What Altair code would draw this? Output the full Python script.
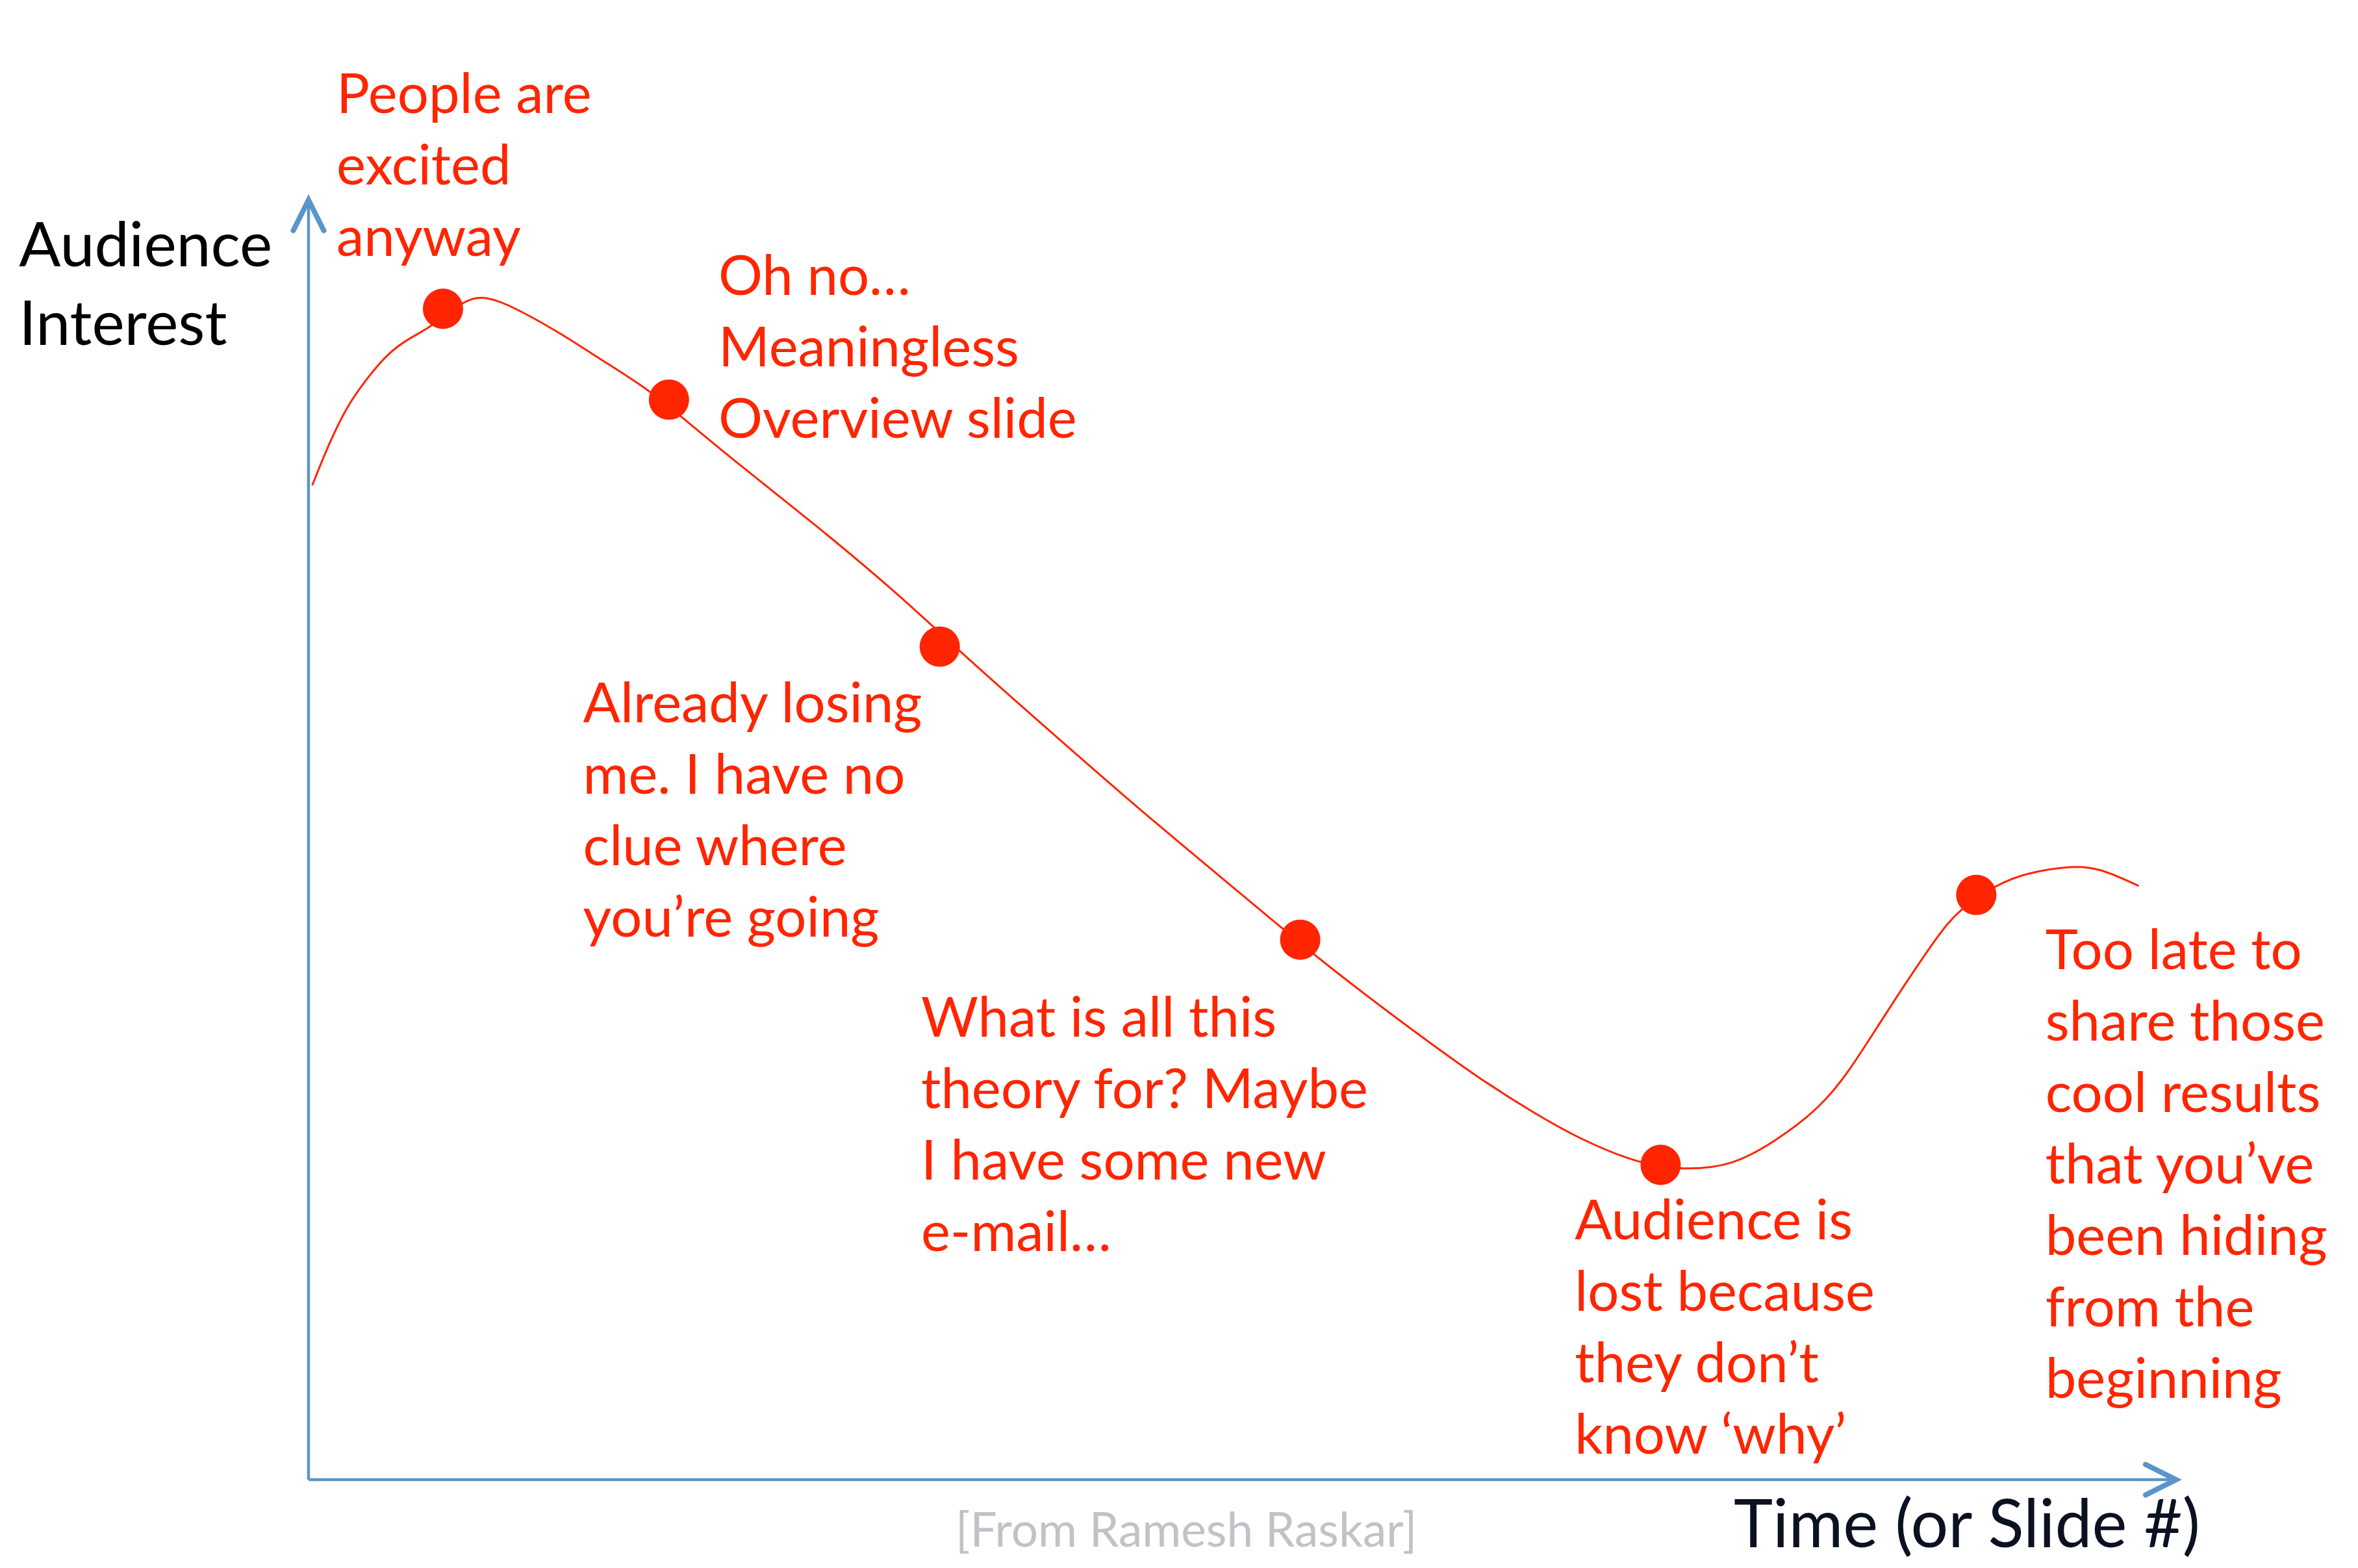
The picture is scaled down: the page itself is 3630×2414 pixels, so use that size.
import altair as alt
import pandas as pd

# ---- data (time units: 0 = origin, 100 = arrow tip) ----
curve_t = [0.2, 0.9, 2.0, 3.2, 4.3, 5.5, 6.5, 8.4, 9.6, 11.3, 13.6, 15.9, 18.2, 20.1,
           22.9, 27.0, 31.6, 35.1, 39.7, 44.3, 50.0, 54.0, 58.2, 62.8, 65.8, 68.1,
           71.2, 73.6, 76.2, 78.5, 80.9, 82.5, 84.3, 87.2, 88.4, 90.4, 91.9, 94.5,
           95.9, 98.0]
curve_v = [77.7, 80.3, 83.8, 86.2, 88.1, 89.3, 90.0, 92.3, 92.5, 91.4, 89.5, 87.3, 85.2, 82.9,
           79.5, 74.8, 69.2, 64.4, 58.5, 52.6, 45.7, 40.8, 36.1, 31.2, 28.5, 26.6,
           24.7, 24.2, 24.5, 26.4, 29.0, 31.9, 36.1, 42.5, 44.6, 46.5, 47.4, 48.0,
           47.8, 46.4]

dot_t = [7.2, 19.3, 33.8, 53.1, 72.4, 89.3]
dot_v = [91.5, 84.4, 65.1, 42.2, 24.6, 45.7]

note_t = [1.5, 21.95, 14.7, 32.8, 67.8, 93.0]
note_v = [106.8, 92.6, 59.2, 34.6, 18.8, 39.9]
note_text = [
    "People are\nexcited\nanyway",
    "Oh no…\nMeaningless\nOverview slide",
    "Already losing\nme. I have no\nclue where\nyou’re going",
    "What is all this\ntheory for? Maybe\nI have some new\ne-mail…",
    "Audience is\nlost because\nthey don’t\nknow ‘why’",
    "Too late to\nshare those\ncool results\nthat you’ve\nbeen hiding\nfrom the\nbeginning",
]

axis_t = [0, 0]
axis_v = [0, 0]
axis_t2 = [0, 100]
axis_v2 = [100, 0]

arrow_t = [0, 100]
arrow_v = [100, 0]
arrow_angle = [0, 90]

ylabel_text = ["Audience\nInterest"]
ylabel_t = [-15.5]
ylabel_v = [94.8]

xlabel_text = ["Time (or Slide #)"]
xlabel_t = [88.8]
xlabel_v = [-5.3]

credit_text = ["[From Ramesh Raskar]"]
credit_t = [47.0]
credit_v = [-5.2]

# ---- scales ----
X_DOMAIN = [-16.52, 109.74]
Y_DOMAIN = [-6.90, 115.63]
xs = alt.Scale(domain=X_DOMAIN, nice=False, zero=False)
ys = alt.Scale(domain=Y_DOMAIN, nice=False, zero=False)

RED = "#FF2500"
BLUE = "#5B94CA"
FONT = "Lato"


def X(f="t"):
    return alt.X(f"{f}:Q", scale=xs, axis=None)


def Y(f="v"):
    return alt.Y(f"{f}:Q", scale=ys, axis=None)


axes_df = pd.DataFrame({"t": axis_t, "v": axis_v, "t2": axis_t2, "v2": axis_v2})
axes = alt.Chart(axes_df).mark_rule(color=BLUE, strokeWidth=4.5).encode(
    x=X(), y=Y(), x2="t2:Q", y2="v2:Q"
)

arrow_df = pd.DataFrame({"t": arrow_t, "v": arrow_v, "angle": arrow_angle})
arrows = alt.Chart(arrow_df).mark_point(
    shape="M -0.5 1 L 0 0 L 0.5 1",
    filled=False,
    stroke=BLUE,
    strokeWidth=8,
    strokeCap="round",
    strokeJoin="miter",
    size=8836,
    opacity=1,
).encode(x=X(), y=Y(), angle=alt.Angle("angle:Q", scale=None))

curve_df = pd.DataFrame({"t": curve_t, "v": curve_v})
curve = alt.Chart(curve_df).mark_line(
    color=RED, strokeWidth=3, interpolate="basis"
).encode(x=X(), y=Y(), order="t:Q")

dots_df = pd.DataFrame({"t": dot_t, "v": dot_v})
dots = alt.Chart(dots_df).mark_point(
    shape="circle", filled=True, color=RED, size=3850, opacity=1
).encode(x=X(), y=Y())

notes_df = pd.DataFrame({"t": note_t, "v": note_v, "label": note_text})
notes = alt.Chart(notes_df).mark_text(
    align="left", baseline="alphabetic", font=FONT, fontSize=85,
    lineHeight=110, lineBreak="\n", color=RED
).encode(x=X(), y=Y(), text="label:N")

ylab_df = pd.DataFrame({"t": ylabel_t, "v": ylabel_v, "label": ylabel_text})
ylab = alt.Chart(ylab_df).mark_text(
    align="left", baseline="alphabetic", font=FONT, fontSize=95,
    lineHeight=121, lineBreak="\n", color="#000000"
).encode(x=X(), y=Y(), text="label:N")

xlab_df = pd.DataFrame({"t": xlabel_t, "v": xlabel_v, "label": xlabel_text})
xlab = alt.Chart(xlab_df).mark_text(
    align="center", baseline="alphabetic", font=FONT, fontSize=102,
    color="#0C1122"
).encode(x=X(), y=Y(), text="label:N")

credit_df = pd.DataFrame({"t": credit_t, "v": credit_v, "label": credit_text})
credit = alt.Chart(credit_df).mark_text(
    align="center", baseline="alphabetic", font=FONT, fontSize=73,
    color="#BFC3C6"
).encode(x=X(), y=Y(), text="label:N")

chart = alt.layer(axes, arrows, curve, dots, notes, ylab, xlab, credit).properties(
    width=3630,
    height=2414,
    autosize=alt.AutoSizeParams(type="none"),
    padding=0,
    background="white",
).configure_view(stroke=None)

chart.save("out.html", embed_options={"renderer": "svg", "actions": False})
